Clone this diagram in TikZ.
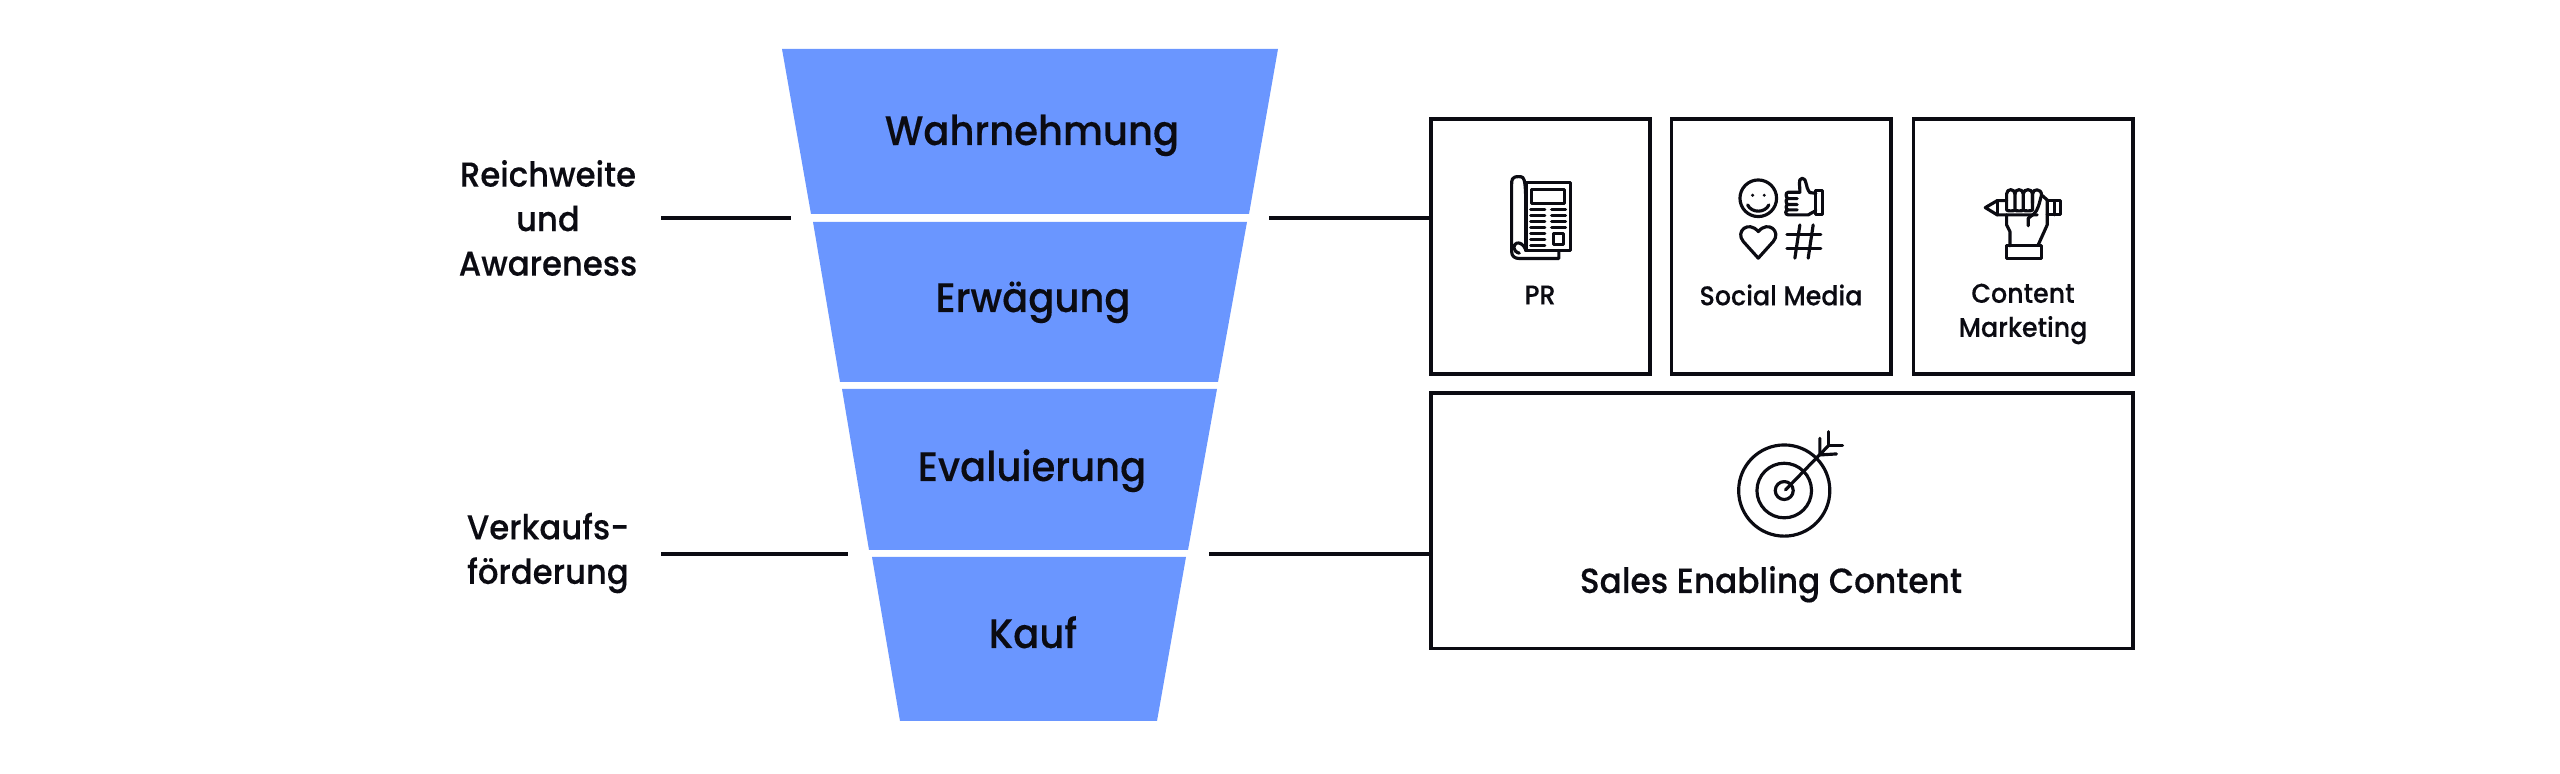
\documentclass[tikz,border=0pt]{standalone}
\usepackage{fontspec}
\setmainfont{Poppins}[UprightFont=* Medium, FakeStretch=0.936, FakeBold=0.25]
\usetikzlibrary{positioning}
\definecolor{funnelblue}{HTML}{6A96FF}
\definecolor{inkblack}{HTML}{0B0B12}
\tikzset{seg/.style = {fill = funnelblue}}
\tikzset{stagelabel/.style = {anchor = base, text = inkblack, font = \fontsize{11.7}{14}\selectfont}}
\tikzset{sidelabel/.style = {align = center, text = inkblack, font = \fontsize{9.8}{12.66}\selectfont}}
\tikzset{tilelabel/.style = {align = center, text = inkblack, font = \fontsize{7.7}{9.7}\selectfont}}
\tikzset{tile/.style = {draw = inkblack, line width = 1.1pt, rectangle, inner sep = 0, outer sep = 0}}
\tikzset{wire/.style = {draw = inkblack, line width = 1pt}}
\tikzset{icon/.style = {draw = inkblack, line width = 0.9pt, line join = round, line cap = round}}
\tikzset{zoomed/.style = {x = 0.003333cm, y = -0.003333cm}}

\begin{document}
\begin{tikzpicture}[x = 0.01cm, y = -0.01cm]
      \useasboundingbox (0, 0) rectangle (2560, 774);

      \fill [seg] (782, 49) -- (1278, 49) -- (1249, 214) -- (811, 214) -- cycle;
      \fill [seg] (813, 222) -- (1247, 222) -- (1218, 382) -- (840, 382) -- cycle;
      \fill [seg] (842, 389) -- (1217, 389) -- (1188, 550) -- (869, 550) -- cycle;
      \fill [seg] (872, 557) -- (1186, 557) -- (1157, 721) -- (900, 721) -- cycle;

      \node [stagelabel] (wahrnehmung) at (1032, 145) {Wahrnehmung};
      \node [stagelabel] (erwaegung) at (1033, 312) {Erwägung};
      \node [stagelabel] (evaluierung) at (1032, 481) {Evaluierung};
      \node [stagelabel] (kauf) at (1033, 648) {Kauf};

      \node [sidelabel] (reichweite) at (548, 218) {Reichweite\\und\\Awareness};
      \node [sidelabel] (verkauf) at (548, 553) {Verkaufs-\\förderung};

      \node [tile, minimum width = 2.19cm, minimum height = 2.55cm] (prbox) at (1540.5, 246.5) {};
      \node [tile, minimum width = 2.19cm, minimum height = 2.55cm] (socialbox) at (1781, 246.5) {};
      \node [tile, minimum width = 2.19cm, minimum height = 2.55cm] (contentbox) at (2023, 246.5) {};
      \node [tile, minimum width = 7.02cm, minimum height = 2.55cm] (salesbox) at (1782, 521) {};

      \node [tilelabel] (prlabel) at (1540, 295) {PR};
      \node [tilelabel] (sociallabel) at (1781, 295) {Social Media};
      \node [tilelabel] (contentlabel) at (2023, 314) {Content\\Marketing};
      \node [stagelabel, font = \fontsize{9.95}{12}\selectfont] (saleslabel) at (1771, 593) {Sales Enabling Content};

      \coordinate (reachleft) at (661, 218);
      \coordinate (reachmid) at (791, 218);
      \coordinate (reachright) at (1269, 218);
      \coordinate (saleleft) at (661, 554);
      \coordinate (salemid) at (848, 554);
      \coordinate (saleright) at (1209, 554);

      \draw [wire] (reachleft) -- (reachmid);
      \draw [wire] (saleleft) -- (salemid);
      \draw [wire] (reachright) -- (reachright -| prbox.west);
      \draw [wire] (saleright) -- (saleright -| salesbox.west);

      \begin{scope}[shift = {(1480, 160)}, zoomed]
        \draw [icon] (138, 68) -- (272, 68) -- (272, 272) -- (138, 272) -- cycle;
        \draw [icon] (155, 88) rectangle (255, 130);
        \draw [icon] (222, 222) rectangle (252, 255);
        \draw [icon] (138, 250) .. controls (138, 50) and (138, 50) .. (116, 50)
                     .. controls (95, 50) and (95, 60) .. (95, 75) -- (95, 275)
                     .. controls (95, 290) and (105, 296) .. (118, 296) -- (237, 296) -- (237, 272);
        \draw [icon] (138, 272) .. controls (130, 250) and (118, 248) .. (110, 250)
                     .. controls (98, 254) and (98, 275) .. (118, 280);
        \draw [icon] (152, 149) -- (195, 149);
        \draw [icon] (152, 167) -- (195, 167);
        \draw [icon] (152, 185) -- (195, 185);
        \draw [icon] (152, 203) -- (195, 203);
        \draw [icon] (152, 221) -- (195, 221);
        \draw [icon] (152, 239) -- (195, 239);
        \draw [icon] (152, 256) -- (195, 256);
        \draw [icon] (215, 149) -- (257, 149);
        \draw [icon] (215, 167) -- (257, 167);
        \draw [icon] (215, 185) -- (257, 185);
        \draw [icon] (215, 203) -- (257, 203);
      \end{scope}

      \begin{scope}[shift = {(1710, 160)}, zoomed]
        \draw [icon] (145, 115) ellipse (55 and 55);
        \fill [inkblack] (128, 106) circle (5);
        \fill [inkblack] (163, 106) circle (5);
        \draw [icon] (113, 135) .. controls (125, 160) and (165, 160) .. (177, 135);
        \draw [icon] (318, 92) rectangle (338, 165);
        \draw [icon] (318, 100) -- (300, 98) .. controls (285, 80) and (292, 55) .. (277, 55)
                     .. controls (262, 55) and (272, 85) .. (270, 97) -- (235, 97)
                     .. controls (225, 97) and (228, 115) .. (235, 116) -- (262, 116)
                     (235, 116) .. controls (225, 116) and (228, 133) .. (235, 134) -- (262, 134)
                     (235, 134) .. controls (225, 134) and (228, 150) .. (235, 150) -- (262, 150)
                     (235, 150) .. controls (225, 150) and (225, 165) .. (235, 165) -- (295, 165) -- (318, 152);
        \draw [icon] (145, 295) -- (100, 245) .. controls (75, 215) and (115, 180) .. (145, 215)
                     .. controls (175, 180) and (215, 215) .. (190, 245) -- cycle;
        \draw [icon] (231, 225) -- (333, 225);
        \draw [icon] (231, 265) -- (333, 265);
        \draw [icon] (270, 195) -- (255, 295);
        \draw [icon] (310, 195) -- (295, 295);
      \end{scope}

      \begin{scope}[shift = {(1960, 170)}, zoomed]
        \draw [icon] (140, 92) -- (112, 92) -- (76, 113) -- (112, 135) -- (232, 135);
        \draw [icon] (112, 92) -- (112, 135);
        \draw [icon] (262, 92) -- (303, 92) -- (303, 135) -- (262, 135);
        \draw [icon] (283, 92) -- (283, 135);
        \draw [icon] (140, 120) .. controls (140, 124) and (165, 124) .. (165, 120) -- (165, 72)
                     .. controls (165, 55) and (140, 55) .. (140, 72) -- cycle;
        \draw [icon] (165, 120) .. controls (165, 124) and (190, 124) .. (190, 120) -- (190, 72)
                     .. controls (190, 55) and (165, 55) .. (165, 72);
        \draw [icon] (190, 120) .. controls (190, 124) and (218, 124) .. (218, 120) -- (218, 72)
                     .. controls (218, 55) and (190, 55) .. (190, 72);
        \draw [icon] (218, 100) -- (218, 72) .. controls (218, 55) and (245, 55) .. (245, 75)
                     -- (262, 90) -- (262, 165) -- (235, 225);
        \draw [icon] (245, 75) .. controls (238, 100) and (235, 120) .. (222, 132) -- (205, 145) -- (205, 168);
        \draw [icon] (140, 135) -- (140, 165) -- (150, 185) -- (150, 228);
        \draw [icon] (140, 228) rectangle (245, 267);
      \end{scope}

      \begin{scope}[shift = {(1720, 420)}, zoomed]
        \draw [icon] (193, 212) ellipse (137 and 137);
        \draw [icon] (193, 212) ellipse (82 and 82);
        \draw [icon] (193, 212) ellipse (27 and 27);
        \draw [icon] (197, 210) -- (325, 78);
        \draw [icon] (300, 55) -- (300, 105) -- (350, 102);
        \draw [icon] (325, 35) -- (325, 76) -- (368, 76);
      \end{scope}
    \end{tikzpicture}
\end{document}
